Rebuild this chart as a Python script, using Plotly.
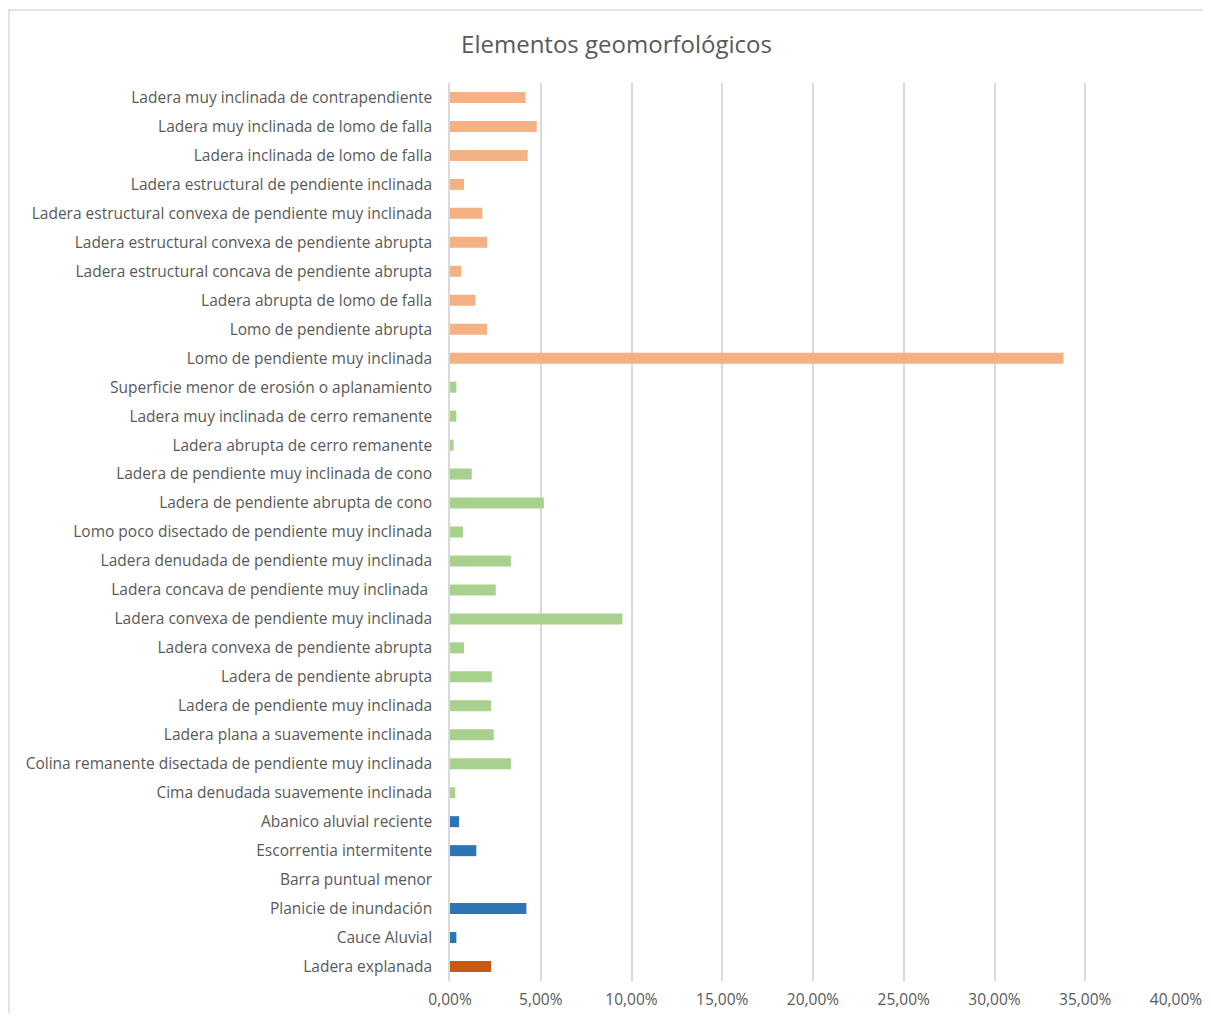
import plotly.graph_objects as go

# categories listed bottom to top
categories = [
    "Ladera explanada",
    "Cauce Aluvial",
    "Planicie de inundación",
    "Barra puntual menor",
    "Escorrentia intermitente",
    "Abanico aluvial reciente",
    "Cima denudada suavemente inclinada",
    "Colina remanente disectada de pendiente muy inclinada",
    "Ladera plana a suavemente inclinada",
    "Ladera de pendiente muy inclinada",
    "Ladera de pendiente abrupta",
    "Ladera convexa de pendiente abrupta",
    "Ladera convexa de pendiente muy inclinada",
    "Ladera concava de pendiente muy inclinada ",
    "Ladera denudada de pendiente muy inclinada",
    "Lomo poco disectado de pendiente muy inclinada",
    "Ladera de pendiente abrupta de cono",
    "Ladera de pendiente muy inclinada de cono",
    "Ladera abrupta de cerro remanente",
    "Ladera muy inclinada de cerro remanente",
    "Superficie menor de erosión o aplanamiento",
    "Lomo de pendiente muy inclinada",
    "Lomo de pendiente abrupta",
    "Ladera abrupta de lomo de falla",
    "Ladera estructural concava de pendiente abrupta",
    "Ladera estructural convexa de pendiente abrupta",
    "Ladera estructural convexa de pendiente muy inclinada",
    "Ladera estructural de pendiente inclinada",
    "Ladera inclinada de lomo de falla",
    "Ladera muy inclinada de lomo de falla",
    "Ladera muy inclinada de contrapendiente",
]

values = [
    0.0226, 0.0035, 0.0421, 0.0, 0.0145, 0.0050,
    0.0029, 0.0336, 0.0241, 0.0226, 0.0230, 0.0077, 0.0950, 0.0252,
    0.0336, 0.0072, 0.0517, 0.0120, 0.0020, 0.0035, 0.0035,
    0.3380, 0.0204, 0.0140, 0.0062, 0.0204, 0.0178, 0.0077, 0.0428,
    0.0478, 0.0416,
]

groups = (["antropogenico"] + ["fluvial"] * 5 + ["denudacional"] * 15
          + ["estructural"] * 10)

group_colors = {
    "antropogenico": "#C55A11",
    "fluvial": "#2E75B6",
    "denudacional": "#A9D18E",
    "estructural": "#F4B183",
}

x_ticks = [0, 0.05, 0.10, 0.15, 0.20, 0.25, 0.30, 0.35, 0.40]
x_tick_labels = ["0,00%", "5,00%", "10,00%", "15,00%", "20,00%",
                 "25,00%", "30,00%", "35,00%", "40,00%"]

FONT = "Open Sans"
TXT = "#595959"
FS = 15.5

# page body has an 8px margin; figure sized to fit window
W, H = 1195, 1005
L, R, T, B = 442, 27, 75, 32
PW, PH = W - L - R, H - T - B

fig = go.Figure(go.Bar(
    y=categories,
    x=values,
    orientation="h",
    marker=dict(color=[group_colors[g] for g in groups], line=dict(width=0)),
    hoverinfo="y+x",
))

fig.update_layout(
    width=W, height=H,
    margin=dict(l=L, r=R, t=T, b=B, pad=0, autoexpand=False),
    paper_bgcolor="white",
    plot_bgcolor="white",
    bargap=0.62,
    showlegend=False,
    font=dict(family=FONT, size=FS, color=TXT),
    title=dict(text="Elementos geomorfológicos", x=608.5 / W, xanchor="center",
               y=1 - 37 / H, yanchor="middle",
               font=dict(family=FONT, size=24, color=TXT)),
    xaxis=dict(
        range=[0, 0.40],
        tickvals=x_ticks,
        ticktext=x_tick_labels,
        showgrid=True,
        gridcolor="#D9D9D9",
        gridwidth=1.5,
        zeroline=False,
        showline=False,
        ticks="outside",
        ticklen=4,
        tickcolor="rgba(0,0,0,0)",
        tickfont=dict(family=FONT, size=FS, color=TXT),
        automargin=False,
        fixedrange=True,
    ),
    yaxis=dict(
        categoryorder="array",
        categoryarray=categories,
        showgrid=False,
        showline=True,
        linecolor="#D9D9D9",
        linewidth=1.5,
        ticks="outside",
        ticklen=13,
        tickcolor="rgba(0,0,0,0)",
        tickfont=dict(family=FONT, size=FS, color=TXT),
        automargin=False,
        fixedrange=True,
    ),
    shapes=[dict(type="rect", xref="paper", yref="paper",
                 x0=-(L - 1) / PW, x1=1.2, y0=-0.2,
                 y1=1 + (T - 2) / PH,
                 line=dict(color="#D9D9D9", width=1.5),
                 fillcolor="rgba(0,0,0,0)", layer="below")],
)

fig.write_html("out.html")
